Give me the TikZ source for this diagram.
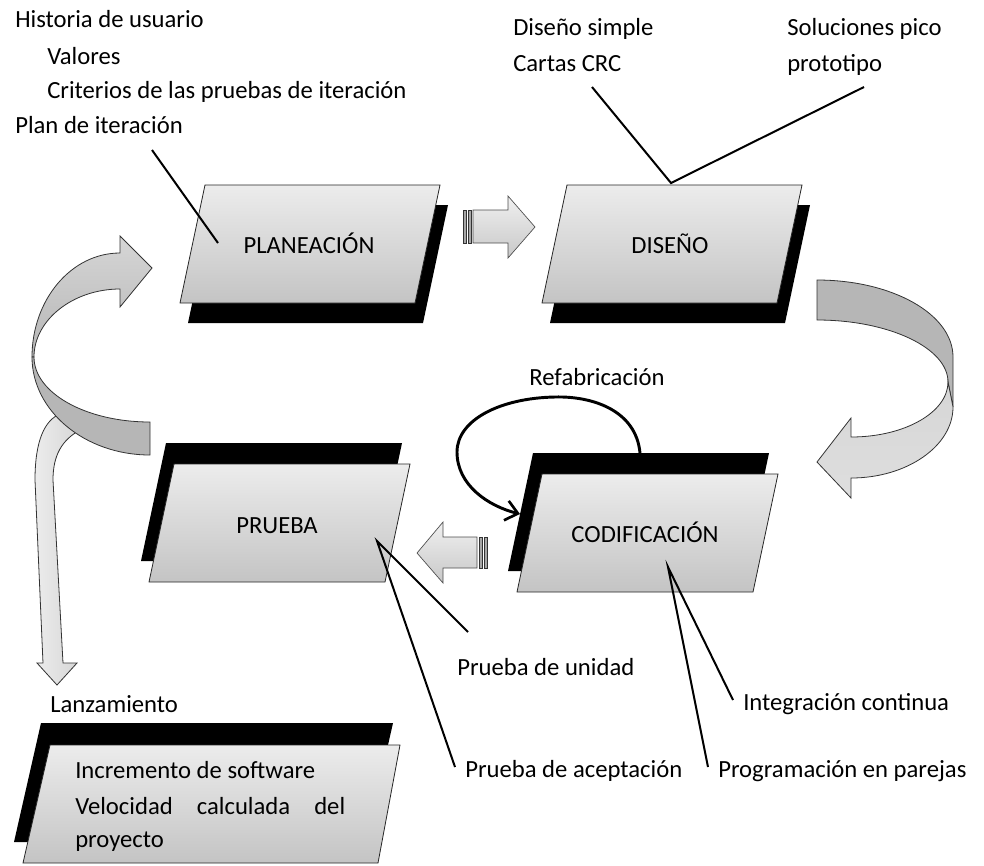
\documentclass[tikz,border=0pt]{standalone}
\usepackage{fontspec}
\setmainfont{Carlito}
\usetikzlibrary{arrows.meta}
\definecolor{facetop}{RGB}{236,236,236}
\definecolor{facebot}{RGB}{196,196,196}
\definecolor{banddark}{RGB}{182,182,182}
\definecolor{bandlight}{RGB}{214,214,214}
\definecolor{arrtop}{RGB}{240,240,240}
\definecolor{arrbot}{RGB}{200,200,200}
\definecolor{reltop}{RGB}{236,236,236}
\definecolor{relbot}{RGB}{214,214,214}
\newcommand\pgram[4]{\path[#4] (#1,#2) -- ++(25,-118) -- ++(#3,0) -- ++(-25,118) -- cycle;}
\begin{document}
\begin{tikzpicture}[x=0.75pt,y=-0.75pt,
  font=\fontsize{18.5}{22}\selectfont,
  face/.style={draw=black!85, line width=0.6pt, top color=facetop, bottom color=facebot},
  shadowbox/.style={fill=black},
  lead/.style={line width=1.5pt, draw=black},
  lbl/.style={anchor=base west, inner sep=0pt},
  boxlbl/.style={anchor=base, inner sep=0pt},
  blockarrow/.style={draw=black!70, line width=0.5pt, top color=arrtop, bottom color=arrbot},
  stripe/.style={draw=black!80, line width=0.5pt, fill=black!35},
  ribbon/.style={draw=black!80, line width=0.6pt}]
\useasboundingbox (0,0) rectangle (984,865);

% ---- parallelogram boxes ----
\pgram{188}{323}{235}{shadowbox}
\pgram{180}{303}{235}{face}
\pgram{550}{323}{235}{shadowbox}
\pgram{542}{303}{235}{face}
\pgram{141}{561}{236}{shadowbox}
\pgram{149}{582}{236}{face}
\pgram{508}{571}{236}{shadowbox}
\pgram{517}{592}{236}{face}
\path[shadowbox] (14,842) -- ++(27,-119) -- ++(352,0) -- ++(-27,119) -- cycle;
\path[face] (23,863) -- ++(27,-118) -- ++(350,0) -- ++(-22,118) -- cycle;

\node[boxlbl] (plan) at (309,253) {PLANEACIÓN};
\node[boxlbl] (dis) at (670,253) {DISEÑO};
\node[boxlbl] (prue) at (277,533) {PRUEBA};
\node[boxlbl] (cod) at (645,542) {CODIFICACIÓN};
\node[lbl] (inc) at (75,778) {Incremento de software};
\node[lbl] (vel) at (75,814) {\makebox[202.5pt][s]{Velocidad calculada del}};
\node[lbl] (proy) at (75,847) {proyecto};

% ---- straight block arrows ----
\path[stripe] (463,210) rectangle (466,243);
\path[stripe] (468,210) rectangle (471,243);
\path[blockarrow] (473,210) -- (508,210) -- (508,196) -- (535,227) -- (508,258) -- (508,243) -- (473,243) -- cycle;
\path[stripe] (484,537) rectangle (487,568);
\path[stripe] (479,537) rectangle (482,568);
\path[blockarrow] (477,537) -- (443,537) -- (443,522) -- (417,553) -- (443,583) -- (443,568) -- (477,568) -- cycle;

% ---- release bent arrow (under the left ribbon) ----
\path[ribbon, left color=reltop, right color=relbot]
  (60,414) .. controls (45,420) and (35,440) .. (35,480) -- (43,663) -- (37,663) -- (57,685)
  -- (77,663) -- (63,663) -- (53,480) .. controls (53,455) and (62,440) .. (80,430) -- cycle;

% ---- left ribbon arrow ----
\path[ribbon, top color=bandlight, bottom color=banddark]
  (32,357) .. controls (32,300) and (71,253) .. (120,253) -- (120,236) -- (152,268)
  -- (120,307) -- (120,289) .. controls (73,289) and (34,320) .. (34,357) -- cycle;
\path[ribbon, fill=banddark]
  (32,357) .. controls (32,411) and (85,455) .. (150,455) -- (150,422)
  .. controls (86,422) and (34,393) .. (34,357) -- cycle;

% ---- right ribbon arrow ----
\path[ribbon, fill=banddark]
  (817,280) .. controls (892,280) and (953,314) .. (953,357) -- (953,407) -- (948,382)
  .. controls (948,348) and (889,320) .. (817,320) -- cycle;
\path[ribbon, top color=bandlight, bottom color=bandlight!80!white]
  (948,382) .. controls (948,412) and (905,437) .. (851,437) -- (851,418) -- (817,462)
  -- (851,498) -- (851,478) .. controls (907,478) and (953,446) .. (953,407) -- cycle;

% ---- refactoring loop ----
\coordinate (rfs) at (640,453);
\coordinate (rfe) at (520,514);
\draw[line width=2.2pt, -{Straight Barb[length=9pt,width=15pt,line width=2pt]}]
  (rfs) .. controls (636,410) and (592,396) .. (555,397)
  .. controls (500,398) and (457,420) .. (457,452)
  .. controls (457,485) and (488,506) .. (rfe);
\node[boxlbl] (refab) at (597,385) {Refabricación};

% ---- labels ----
\node[lbl] (hist) at (15,27) {Historia de usuario};
\node[lbl] (val) at (47,64) {Valores};
\node[lbl] (crit) at (47,98) {Criterios de las pruebas de iteración};
\node[lbl] (pland) at (15,133) {Plan de iteración};
\node[lbl] (dsimp) at (513,35) {Diseño simple};
\node[lbl] (crc) at (513,71) {Cartas CRC};
\node[lbl] (sol) at (787,35) {Soluciones pico};
\node[lbl] (proto) at (787,71) {prototipo};
\node[lbl] (pu) at (457,675) {Prueba de unidad};
\node[lbl] (ic) at (743,710) {Integración continua};
\node[lbl] (pa) at (465,777) {Prueba de aceptación};
\node[lbl] (pp) at (718,777) {Programación en parejas};
\node[lbl] (lanz) at (50,712) {Lanzamiento};

% ---- leader lines ----
\coordinate (l1a) at (152,150);
\coordinate (l1b) at (218,243);
\coordinate (l2a) at (592,87);
\coordinate (l2b) at (864,87);
\coordinate (l2c) at (671,183);
\coordinate (l3a) at (377,541);
\coordinate (l3b) at (468,632);
\coordinate (l3c) at (455,767);
\coordinate (l4a) at (668,567);
\coordinate (l4b) at (733,700);
\coordinate (l4c) at (708,767);
\draw[lead] (l1a) -- (l1b);
\draw[lead] (l2a) -- (l2c) -- (l2b);
\draw[lead] (l3b) -- (l3a) -- (l3c);
\draw[lead] (l4b) -- (l4a) -- (l4c);
\end{tikzpicture}
\end{document}
